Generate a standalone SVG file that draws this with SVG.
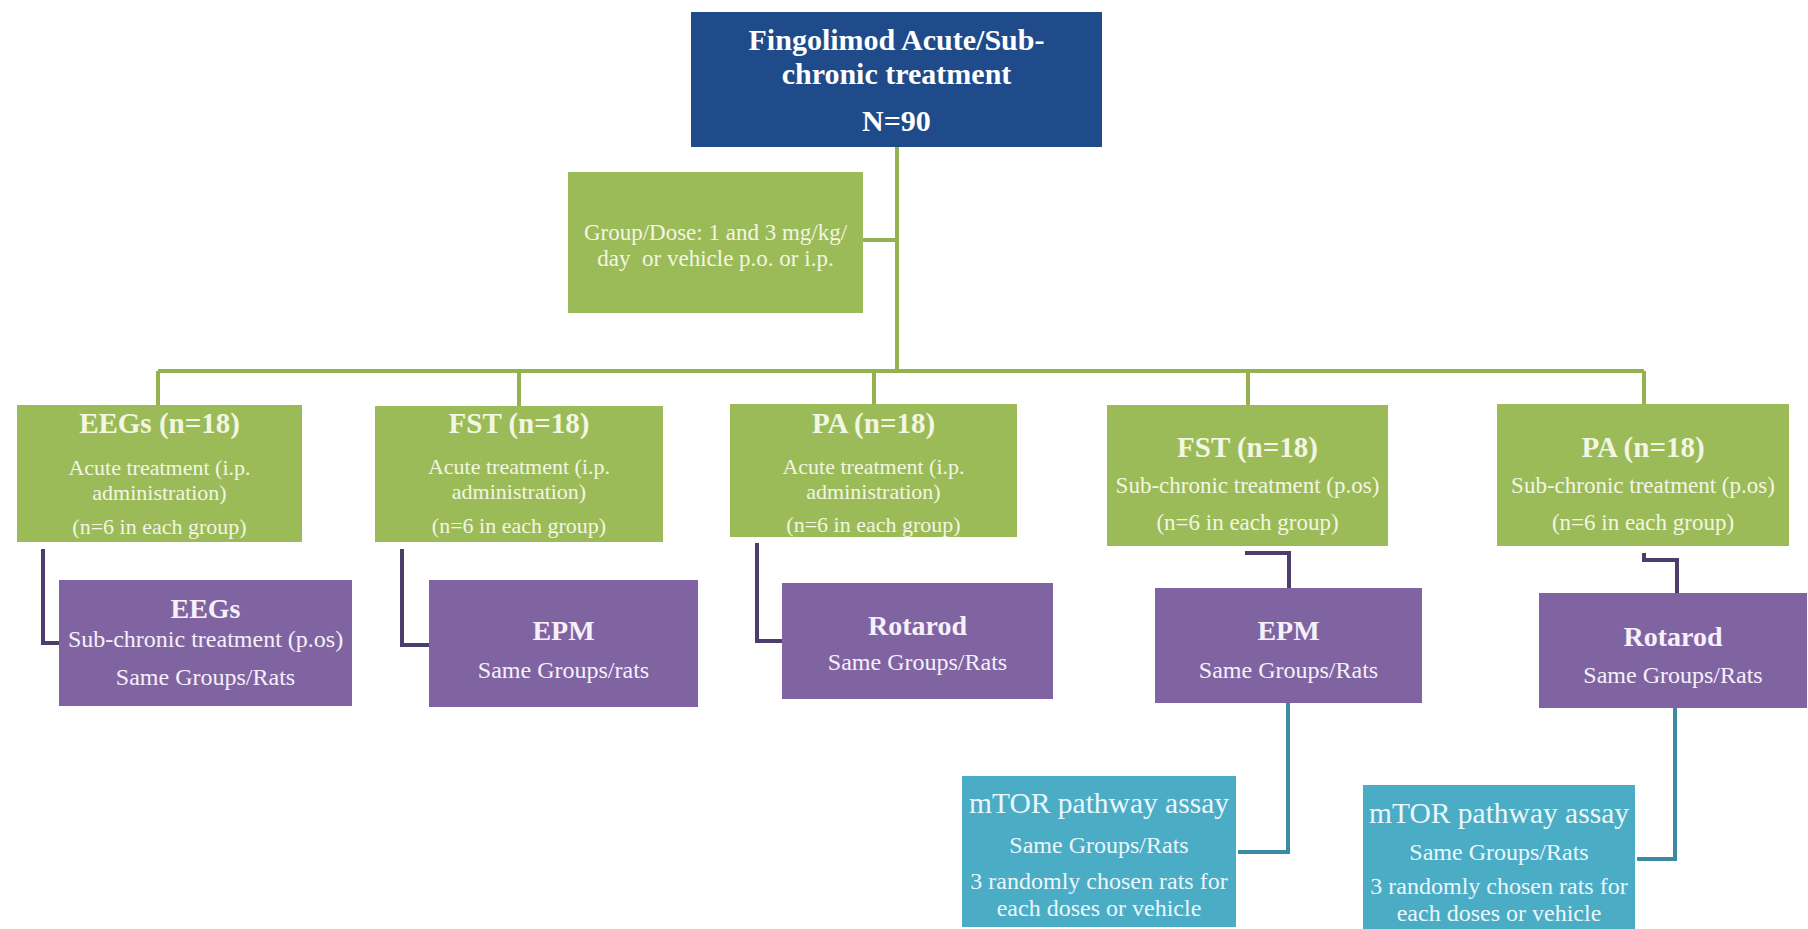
<svg xmlns="http://www.w3.org/2000/svg" width="1808" height="929" viewBox="0 0 1808 929">
<style>
text{font-family:"Liberation Serif","Times New Roman",serif;text-anchor:middle}
.blue{fill:#1f4b8a}
.green{fill:#9bbb59}
.purple{fill:#8064a2}
.teal{fill:#4bacc6}
.tw{fill:#ffffff;font-weight:bold;font-size:30px}
.gt{fill:#f2f6e2;font-weight:bold;font-size:29px}
.gb{fill:#f2f6e2;font-size:22px}
.gs{fill:#f2f6e2;font-size:23px}
.db{fill:#f2f6e2;font-size:23px}
.pt{fill:#f6f0fa;font-weight:bold;font-size:28px}
.pb{fill:#f6f0fa;font-size:24px}
.tt{fill:#eaf7fb;font-size:29.5px}
.tb{fill:#eaf7fb;font-size:24px}
.cg{fill:none;stroke:#94b250;stroke-width:4}
.cp{fill:none;stroke:#4d3d6c;stroke-width:4}
.ct{fill:none;stroke:#3d8ba3;stroke-width:4}
</style>
<rect width="1808" height="929" fill="#ffffff"/>
<g id="connectors">
<path class="cg" d="M897,147 V371"/>
<path class="cg" d="M863,240 H897"/>
<path class="cg" d="M158,371 H1644"/>
<path class="cg" d="M158,371 V405"/>
<path class="cg" d="M519,371 V406"/>
<path class="cg" d="M874,371 V404"/>
<path class="cg" d="M1248,371 V405"/>
<path class="cg" d="M1644,371 V404"/>
<path class="cp" d="M43,549 V643 H59"/>
<path class="cp" d="M402,549 V645 H429"/>
<path class="cp" d="M757,543 V641 H782"/>
<path class="cp" d="M1245,553 H1289 V588"/>
<path class="cp" d="M1644,553 V560 H1677 V593"/>
<path class="ct" d="M1288,703 V852 H1238"/>
<path class="ct" d="M1675,708 V859 H1637"/>
</g>
<g id="top">
<rect class="blue" x="691" y="12" width="411" height="135"/>
<text class="tw" x="896.5" y="50">Fingolimod Acute/Sub-</text>
<text class="tw" x="896.5" y="84">chronic treatment</text>
<text class="tw" x="896.5" y="131">N=90</text>
</g>
<g id="dose">
<rect class="green" x="568" y="172" width="295" height="141"/>
<text class="db" x="715.5" y="240">Group/Dose: 1 and 3 mg/kg/</text>
<text class="db" x="715.5" y="266" xml:space="preserve">day  or vehicle p.o. or i.p.</text>
</g>
<g id="g1">
<rect class="green" x="17" y="405" width="285" height="137"/>
<text class="gt" x="159.5" y="433">EEGs (n=18)</text>
<text class="gb" x="159.5" y="475">Acute treatment (i.p.</text>
<text class="gb" x="159.5" y="500">administration)</text>
<text class="gb" x="159.5" y="534">(n=6 in each group)</text>
</g>
<g id="g2">
<rect class="green" x="375" y="406" width="288" height="136"/>
<text class="gt" x="519" y="433">FST (n=18)</text>
<text class="gb" x="519" y="474">Acute treatment (i.p.</text>
<text class="gb" x="519" y="499">administration)</text>
<text class="gb" x="519" y="533">(n=6 in each group)</text>
</g>
<g id="g3">
<rect class="green" x="730" y="404" width="287" height="133"/>
<text class="gt" x="873.5" y="433">PA (n=18)</text>
<text class="gb" x="873.5" y="474">Acute treatment (i.p.</text>
<text class="gb" x="873.5" y="499">administration)</text>
<text class="gb" x="873.5" y="532">(n=6 in each group)</text>
</g>
<g id="g4">
<rect class="green" x="1107" y="405" width="281" height="141"/>
<text class="gt" x="1247.5" y="457">FST (n=18)</text>
<text class="gs" x="1247.5" y="493">Sub-chronic treatment (p.os)</text>
<text class="gs" x="1247.5" y="530">(n=6 in each group)</text>
</g>
<g id="g5">
<rect class="green" x="1497" y="404" width="292" height="142"/>
<text class="gt" x="1643" y="457">PA (n=18)</text>
<text class="gs" x="1643" y="493">Sub-chronic treatment (p.os)</text>
<text class="gs" x="1643" y="530">(n=6 in each group)</text>
</g>
<g id="p1">
<rect class="purple" x="59" y="580" width="293" height="126"/>
<text class="pt" x="205.5" y="618">EEGs</text>
<text class="pb" x="205.5" y="647">Sub-chronic treatment (p.os)</text>
<text class="pb" x="205.5" y="685">Same Groups/Rats</text>
</g>
<g id="p2">
<rect class="purple" x="429" y="580" width="269" height="127"/>
<text class="pt" x="563.5" y="640">EPM</text>
<text class="pb" x="563.5" y="678">Same Groups/rats</text>
</g>
<g id="p3">
<rect class="purple" x="782" y="583" width="271" height="116"/>
<text class="pt" x="917.5" y="635">Rotarod</text>
<text class="pb" x="917.5" y="670">Same Groups/Rats</text>
</g>
<g id="p4">
<rect class="purple" x="1155" y="588" width="267" height="115"/>
<text class="pt" x="1288.5" y="640">EPM</text>
<text class="pb" x="1288.5" y="678">Same Groups/Rats</text>
</g>
<g id="p5">
<rect class="purple" x="1539" y="593" width="268" height="115"/>
<text class="pt" x="1673" y="646">Rotarod</text>
<text class="pb" x="1673" y="683">Same Groups/Rats</text>
</g>
<g id="t1">
<rect class="teal" x="962" y="776" width="274" height="151"/>
<text class="tt" x="1099" y="813">mTOR pathway assay</text>
<text class="tb" x="1099" y="853">Same Groups/Rats</text>
<text class="tb" x="1099" y="889">3 randomly chosen rats for</text>
<text class="tb" x="1099" y="916">each doses or vehicle</text>
</g>
<g id="t2">
<rect class="teal" x="1363" y="785" width="272" height="144"/>
<text class="tt" x="1499" y="823">mTOR pathway assay</text>
<text class="tb" x="1499" y="860">Same Groups/Rats</text>
<text class="tb" x="1499" y="894">3 randomly chosen rats for</text>
<text class="tb" x="1499" y="921">each doses or vehicle</text>
</g>
</svg>
